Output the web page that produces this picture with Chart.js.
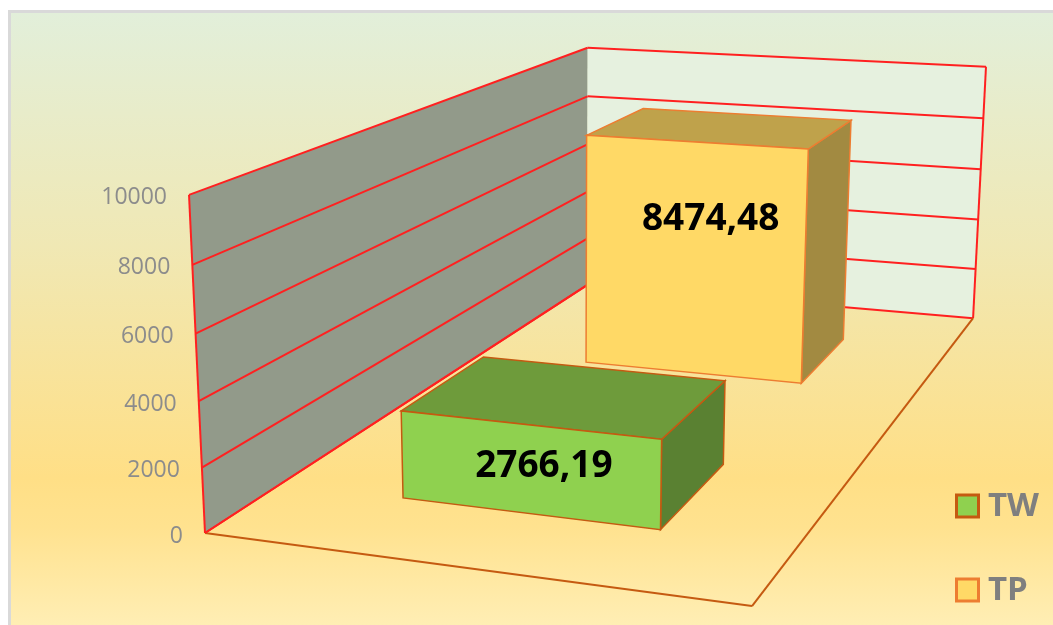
<!DOCTYPE html>
<html>
<head>
<meta charset="utf-8">
<title>TW / TP</title>
<script src="https://cdn.jsdelivr.net/npm/chart.js@4/dist/chart.umd.min.js"></script>
<style>
  html, body { margin: 0; padding: 0; background: #fff; overflow: hidden; }
  #panel {
    position: absolute; left: 8px; top: 10px; width: 1045px; height: 615px;
    box-sizing: border-box; border: solid #d9d9d9; border-width: 3px 0 0 3px;
    background: linear-gradient(180deg, #e2efda 0%, #f0e8b4 38%, #ffdf86 76%, #ffe28f 84%, #ffeeb4 100%);
  }
  #wrap { position: absolute; left: 0; top: 0; width: 1053px; height: 625px; }
</style>
</head>
<body>
<div id="panel"></div>
<div id="wrap"><canvas id="chart"></canvas></div>
<script>
const categories = [''];
const seriesNames = ['TW', 'TP'];
const twValues = [2766.19];
const tpValues = [8474.48];
const yTicks = { min: 0, max: 10000, step: 2000 };

// depth slot of each series on the floor, 0 = front, 1 = back
const depthStart = [0.147, 0.648];
const depthSize = 0.198;

const colors = {
  TW: { front: '#8fd14f', top: '#6e9b3b', side: '#5a8132', edge: '#c55a11' },
  TP: { front: '#ffd966', top: '#bfa24b', side: '#a28a41', edge: '#ed7d31' }
};
// where the value text sits relative to the middle of the front face
const labelShift = { TW: [15, -3], TP: [17, -40] };

// camera: origin plus vanishing points of the three box axes
const O = [205, 533];
const axisX = { w: -0.08555, v: [-5642, -248] };
const axisY = { w: -0.0424, v: [566, 8170] };
const axisZ = { w: 0.4659, v: [1407, -247] };
const backLift = 2.5; // the walls in the picture stand a little taller at the back

function project(x, t, z) {
  const w = 1 + x * axisX.w + t * axisY.w + z * axisZ.w;
  const p = [0, 1].map(i => (O[i]
    + x * axisX.w * axisX.v[i]
    + t * axisY.w * axisY.v[i]
    + z * axisZ.w * axisZ.v[i]) / w);
  p[1] -= backLift * t * z;
  return p;
}

function quad(ctx, pts, fill, stroke, lineWidth) {
  ctx.beginPath();
  pts.forEach((p, i) => i ? ctx.lineTo(p[0], p[1]) : ctx.moveTo(p[0], p[1]));
  ctx.closePath();
  if (fill) { ctx.fillStyle = fill; ctx.fill(); }
  if (stroke) { ctx.strokeStyle = stroke; ctx.lineWidth = lineWidth; ctx.stroke(); }
}

function line(ctx, a, b, stroke, lineWidth) {
  ctx.beginPath();
  ctx.moveTo(a[0], a[1]);
  ctx.lineTo(b[0], b[1]);
  ctx.strokeStyle = stroke;
  ctx.lineWidth = lineWidth;
  ctx.stroke();
}

const box3d = {
  id: 'box3d',
  // walls, floor and the y ticks
  beforeDatasetsDraw(chart) {
    const { ctx, scales: { y } } = chart;
    const frac = v => (y.bottom - y.getPixelForValue(v)) / (y.bottom - y.top);
    const red = '#ff2020';

    quad(ctx, [project(0, 0, 0), project(0, 1, 0), project(0, 1, 1), project(0, 0, 1)], '#929a8a');
    quad(ctx, [project(0, 0, 1), project(0, 1, 1), project(1, 1, 1), project(1, 0, 1)], '#e6f1df');

    line(ctx, project(0, 0, 0), project(0, 1, 0), red, 2);
    line(ctx, project(1, 0, 1), project(1, 1, 1), red, 2);
    y.ticks.forEach(tick => {
      const t = frac(tick.value);
      line(ctx, project(0, t, 0), project(0, t, 1), red, 2);
      line(ctx, project(0, t, 1), project(1, t, 1), red, 2);
    });

    line(ctx, project(0, 0, 0), project(1, 0, 0), '#c55a11', 2);
    line(ctx, project(1, 0, 0), project(1, 0, 1), '#c55a11', 2);
    line(ctx, project(0, 0, 1), project(0, 0, 0), red, 2);

    ctx.save();
    ctx.font = '23px "Open Sans"';
    ctx.fillStyle = '#8c8c8c';
    ctx.textAlign = 'right';
    ctx.textBaseline = 'middle';
    y.ticks.forEach(tick => {
      const p = project(0, frac(tick.value), 0);
      ctx.fillText(tick.label, p[0] - 22, p[1] + 3);
    });
    ctx.restore();
  },
  // each dataset becomes a prism instead of a flat bar
  beforeDatasetDraw(chart, args) {
    const { ctx, chartArea: area, scales: { y } } = chart;
    const ds = chart.data.datasets[args.index];
    const name = ds.label;
    const c = colors[name];
    const bar = args.meta.data[0];
    const x0 = (bar.x - bar.width / 2 - area.left) / area.width;
    const x1 = (bar.x + bar.width / 2 - area.left) / area.width;
    const t = (y.bottom - bar.y) / (y.bottom - y.top);
    const z0 = depthStart[args.index];
    const z1 = z0 + depthSize;

    quad(ctx, [project(x1, 0, z0), project(x1, t, z0), project(x1, t, z1), project(x1, 0, z1)], c.side, c.edge, 1.5);
    quad(ctx, [project(x0, t, z0), project(x0, t, z1), project(x1, t, z1), project(x1, t, z0)], c.top, c.edge, 1.5);
    quad(ctx, [project(x0, 0, z0), project(x0, t, z0), project(x1, t, z0), project(x1, 0, z0)], c.front, c.edge, 1.5);

    const mid = project((x0 + x1) / 2, t / 2, z0);
    ctx.save();
    ctx.font = 'bold 37px "Open Sans"';
    ctx.fillStyle = '#000';
    ctx.textAlign = 'center';
    ctx.textBaseline = 'middle';
    ctx.fillText(String(ds.data[0]).replace('.', ','), mid[0] + labelShift[name][0], mid[1] + labelShift[name][1]);
    ctx.restore();
    return false;
  },
  afterDraw(chart) {
    const { ctx } = chart;
    ctx.save();
    chart.data.datasets.forEach((ds, i) => {
      const top = 495 + i * 84;
      const c = colors[ds.label];
      ctx.fillStyle = c.front;
      ctx.strokeStyle = c.edge;
      ctx.lineWidth = 3;
      ctx.fillRect(956.5, top, 22, 22);
      ctx.strokeRect(956.5, top, 22, 22);
      ctx.font = 'bold 33px "Open Sans"';
      ctx.fillStyle = '#7f7f7f';
      ctx.textAlign = 'left';
      ctx.textBaseline = 'middle';
      ctx.fillText(ds.label, 988, top + 12);
    });
    ctx.restore();
  }
};

new Chart(document.getElementById('chart'), {
  type: 'bar',
  data: {
    labels: categories,
    datasets: [
      { label: seriesNames[0], data: twValues, backgroundColor: colors.TW.front, borderColor: colors.TW.edge, grouped: false },
      { label: seriesNames[1], data: tpValues, backgroundColor: colors.TP.front, borderColor: colors.TP.edge, grouped: false }
    ]
  },
  options: {
    responsive: true,
    maintainAspectRatio: false,
    animation: false,
    layout: { padding: { left: 205, right: 301, top: 195, bottom: 92 } },
    datasets: { bar: { barPercentage: 0.5, categoryPercentage: 1 } },
    plugins: { legend: { display: false }, tooltip: { enabled: false } },
    scales: {
      x: { display: false },
      y: {
        display: false,
        min: yTicks.min,
        max: yTicks.max,
        ticks: { stepSize: yTicks.step, callback: v => String(v) }
      }
    }
  },
  plugins: [box3d]
});
</script>
</body>
</html>
